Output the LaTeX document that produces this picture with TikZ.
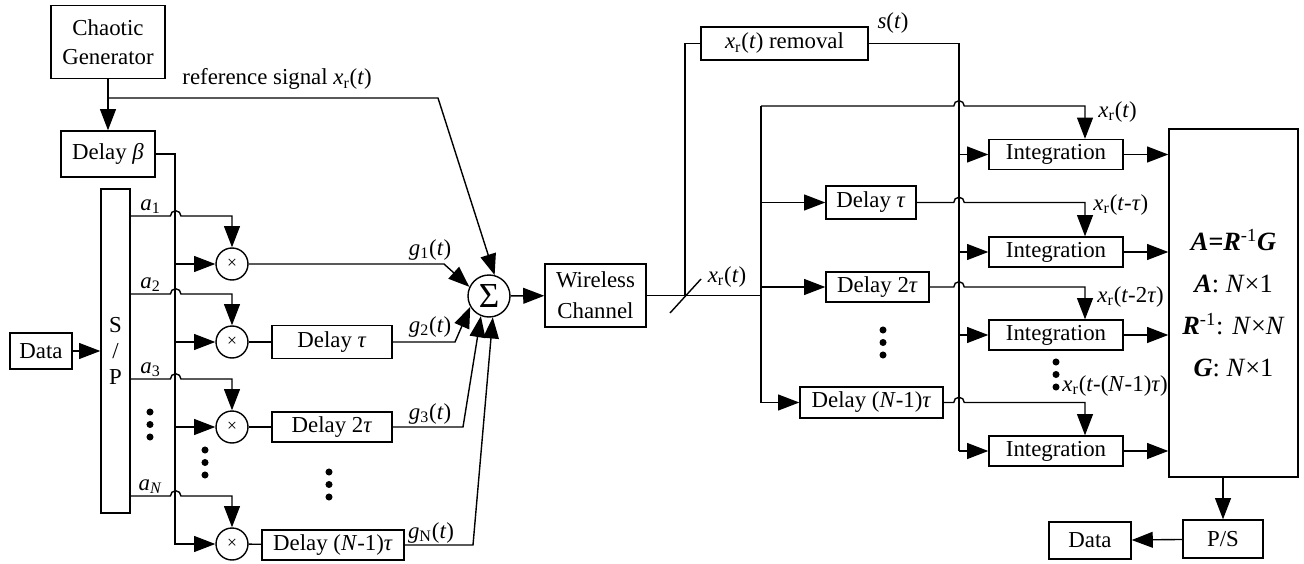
\documentclass[tikz,border=0pt]{standalone}
\usepackage{fontspec}
\setmainfont{Liberation Serif}
\usetikzlibrary{arrows.meta,calc}
\newcommand{\sigxr}{\textit{x}\textsubscript{r}}
\begin{document}
\begin{tikzpicture}[x=0.02cm,y=-0.02cm,line width=0.8pt,
  font=\fontsize{13}{15}\selectfont,
  blk/.style 2 args={draw,inner sep=0pt,minimum width=#1,minimum height=#2},
  mult/.style={draw,circle,inner sep=0pt,minimum size=0.64cm,font=\fontsize{10}{10}\selectfont},
  arr/.style={-{Triangle[length=12pt,width=9pt]}},
  lbl/.style={inner sep=1pt}]
\useasboundingbox (0,0) rectangle (1304,564);
% transmitter
\node[blk={2.28cm}{1.46cm},align=center] (gen) at (108,42) {Chaotic\\[1.5pt]Generator};
\node[blk={1.88cm}{0.92cm}] (dlyb) at (108,154) {Delay \textit{β}};
\node[blk={0.58cm}{6.48cm},align=center] (sp) at (115.5,351) {S\\/\\P};
\node[blk={1.24cm}{0.72cm}] (din) at (41,351) {Data};
\node[mult] (m1) at (232,264) {×};
\node[mult] (m2) at (232,342) {×};
\node[mult] (m3) at (232,427) {×};
\node[mult] (mN) at (232,544) {×};
\node[blk={2.4cm}{0.66cm}] (d1) at (332,342) {Delay \textit{τ}};
\node[blk={2.4cm}{0.6cm}] (d2) at (332,427) {Delay 2\textit{τ}};
\node[blk={2.84cm}{0.6cm}] (dN) at (333,545) {Delay (\textit{N}-1)\textit{τ}};
\node[draw,circle,inner sep=0pt,minimum size=0.84cm,font=\fontsize{20}{20}\selectfont] (sum) at (489,296) {Σ};
\node[blk={2.02cm}{1.26cm},align=center] (chan) at (595.5,295.5) {Wireless\\[2.5pt]Channel};

\coordinate (jref) at (108,98);
\coordinate (bus) at (175,154);
\draw[arr] (gen) -- (dlyb);
\draw[arr] (jref) -- (438,98) -- (sum.75);
\node[lbl,anchor=base west] (lref) at (180,85) {reference signal \sigxr(\textit{t})};
\draw[arr] (din) -- (sp);
\draw[arr] (dlyb.east) -| (bus |- mN) -- (mN);
\foreach \m in {m1,m2,m3} \draw[arr] (bus |- \m) -- (\m);
\foreach \m/\a in {m1/1,m2/2,m3/3,mN/\textit{N}}
  \draw[arr] ($(sp.east |- \m)+(0,-48)$) -- ++(39.7,0) node[midway,above,lbl]{\textit{a}\textsubscript{\a}}
    arc[start angle=180,end angle=0,radius=3pt] -| (\m);
\draw[arr] (m1) -- (444,264) -- (sum.155);
\draw (m2) -- (d1);
\draw (m3) -- (d2);
\draw (mN) -- (dN);
\draw[arr] (d1) -- (455,342) -- (sum.210);
\draw[arr] (d2) -- (463,427) -- (sum.248);
\draw[arr] (dN) -- (473,545) -- (sum.280);
\node[lbl] (lg1) at (430,250) {\textit{g}\textsubscript{1}(\textit{t})};
\node[lbl] (lg2) at (430,327) {\textit{g}\textsubscript{2}(\textit{t})};
\node[lbl] (lg3) at (430,414) {\textit{g}\textsubscript{3}(\textit{t})};
\node[lbl] (lgN) at (431,533) {\textit{g}\textsubscript{N}(\textit{t})};
\foreach \x/\y in {150/412,205/450,329/472,883/330,1056/362}
  \foreach \k in {0,1,2} \fill (\x,\y+12.5*\k) circle (2pt);
\draw[arr] (sum) -- (chan);

% receiver
\node[blk={3.34cm}{0.66cm}] (rem) at (784.5,43.5) {\sigxr(\textit{t}) removal};
\node[blk={1.8cm}{0.66cm}] (rd1) at (871,202.5) {Delay \textit{τ}};
\node[blk={2.06cm}{0.6cm}] (rd2) at (877.5,287) {Delay 2\textit{τ}};
\node[blk={2.86cm}{0.62cm}] (rdN) at (871.5,402.5) {Delay (\textit{N}-1)\textit{τ}};
\foreach \i/\y in {1/154.5,2/252,3/335,4/451}
  \node[blk={2.68cm}{0.6cm}] (int\i) at (1056,\y) {Integration};
\node[blk={2.58cm}{6.96cm},align=center,font=\fontsize{15}{24}\selectfont] (solve) at (1233.5,303)
  {\textbf{\textit{A=R}}\textsuperscript{-1}\textbf{\textit{G}}\\
   \textbf{\textit{A}}: \textit{N}×1\\
   \textbf{\textit{R}}\textsuperscript{-1}: \textit{N}×\textit{N}\\
   \textbf{\textit{G}}: \textit{N}×1};
\node[blk={1.6cm}{0.76cm}] (ps) at (1223,539) {P/S};
\node[blk={1.64cm}{0.74cm}] (dout) at (1090,540.5) {Data};

\coordinate (cut) at (685,296);
\coordinate (rtop) at (761,106);
\coordinate (sbus) at (959,42);
\draw (chan) -- (rtop |- chan);
\draw (cut) ++(-15,17) -- ++(31,-34);
\node[lbl] (lxr) at (727,277) {\sigxr(\textit{t})};
\draw (cut) |- (rem);
\draw (rem) -| (sbus |- int4);
\node[lbl] (ls) at (893,23) {\textit{s}(\textit{t})};
\draw[arr] (rtop) |- (rdN);
\draw[arr] (rtop |- rd1) -- (rd1);
\draw[arr] (rtop |- rd2) -- (rd2);
\foreach \i in {1,...,4} {
  \draw[arr] (sbus |- int\i) -- (int\i);
  \draw[arr] (int\i) -- (solve.west |- int\i);
}
\foreach \s/\i in {rtop/1,rd1/2,rd2/3,rdN/4}
  \draw[arr] (\s) -- ($(sbus |- \s)+(-3pt,0)$) arc[start angle=180,end angle=0,radius=3pt]
    -| ($(int\i.north)+(29,0)$);
\node[lbl,anchor=west] (lx0) at (1096,112) {\sigxr(\textit{t})};
\node[lbl,anchor=west] (lx1) at (1091,205) {\sigxr(\textit{t}-\textit{τ})};
\node[lbl,anchor=west] (lx2) at (1095,297) {\sigxr(\textit{t}-2\textit{τ})};
\node[lbl,anchor=west] (lx3) at (1060,386) {\sigxr(\textit{t}-(\textit{N}-1)\textit{τ})};
\draw[arr] (solve.south -| ps) -- (ps);
\draw[arr] (ps) -- (dout);
\end{tikzpicture}
\end{document}
